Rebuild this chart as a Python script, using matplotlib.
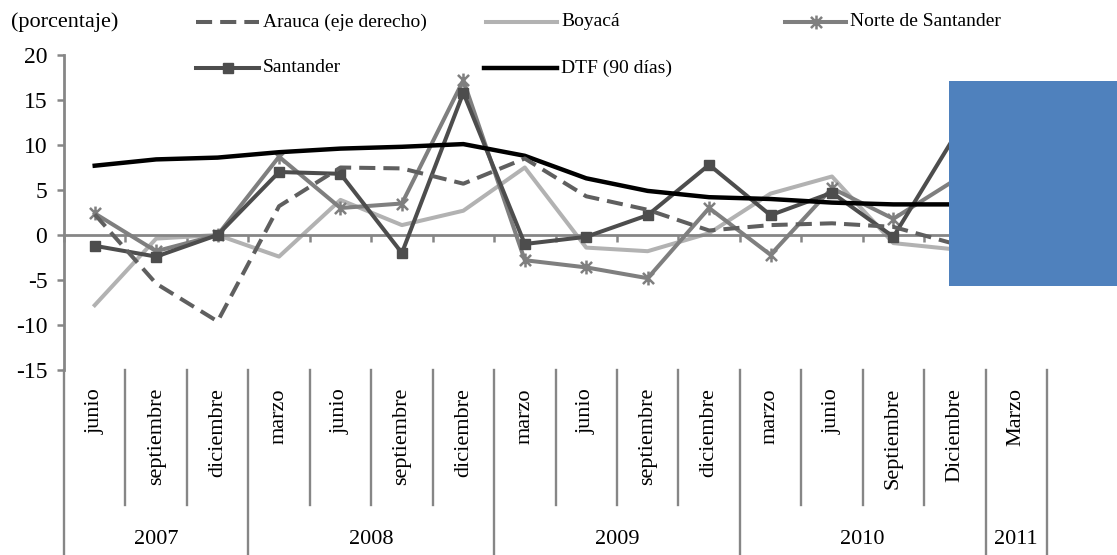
#!/usr/bin/env python3
"""Quarterly growth by department vs. DTF, 2007-2011 (Excel-style multi-level axis)."""

import matplotlib
matplotlib.use("Agg")
import matplotlib.pyplot as plt
from matplotlib.lines import Line2D
from matplotlib.patches import Rectangle
from matplotlib.path import Path
from matplotlib.transforms import blended_transform_factory
import numpy as np


months = ["junio", "septiembre", "diciembre",
          "marzo", "junio", "septiembre", "diciembre",
          "marzo", "junio", "septiembre", "diciembre",
          "marzo", "junio", "Septiembre", "Diciembre",
          "Marzo"]
years = ["2007", "2008", "2009", "2010", "2011"]
months_per_year = [3, 4, 4, 4, 1]

arauca = [2.3, -5.4, -9.6, 3.2, 7.5, 7.4, 5.7, 8.5, 4.3, 2.8, 0.5, 1.1, 1.3, 0.9, -1.0, 1.0]
boyaca = [-7.8, -0.4, 0.0, -2.4, 3.9, 1.1, 2.7, 7.5, -1.4, -1.8, 0.2, 4.6, 6.5, -0.9, -1.6, 3.0]
norte = [2.4, -1.8, 0.0, 8.7, 3.0, 3.5, 17.2, -2.8, -3.6, -4.8, 3.0, -2.2, 5.2, 1.8, 6.1, 4.0]
santander = [-1.2, -2.4, 0.0, 7.0, 6.8, -2.0, 15.8, -1.0, -0.2, 2.2, 7.8, 2.2, 4.7, -0.2, 11.0, 9.0]
dtf = [7.7, 8.4, 8.6, 9.2, 9.6, 9.8, 10.1, 8.8, 6.3, 4.9, 4.2, 4.0, 3.6, 3.4, 3.4, 3.4]

W, H = 1117, 555
AXIS_GRAY = "#868686"


def fx(px):
    return px / W


def fy(py):
    return 1 - py / H


plt.rcParams["font.family"] = ["Liberation Serif", "DejaVu Serif"]
plt.rcParams["axes.unicode_minus"] = False

fig = plt.figure(figsize=(W / 100, H / 100), dpi=100)
ax = fig.add_axes([fx(64), fy(370), fx(1047) - fx(64), fy(55) - fy(370)])
x = np.arange(len(months))

# Excel "star" marker: an X with a vertical bar
star = Path([(-1, -1), (1, 1), (-1, 1), (1, -1), (0, -1.25), (0, 1.25)],
            [Path.MOVETO, Path.LINETO] * 3)

styles = {
    "boyaca": dict(color="#b2b2b2", lw=2.9),
    "norte": dict(color="#7f7f7f", lw=2.9, marker=star, ms=10, mew=1.8),
    "santander": dict(color="#4d4d4d", lw=2.9, marker="s", ms=7.5),
    "dtf": dict(color="black", lw=3.2),
    "arauca": dict(color="#5f5f5f", lw=2.9, ls=(0, (4, 2))),
}
ax.plot(x, boyaca, zorder=2, **styles["boyaca"])
ax.plot(x, norte, zorder=3, **styles["norte"])
ax.plot(x, santander, zorder=4, **styles["santander"])
ax.plot(x, dtf, zorder=5, **styles["dtf"])
ax.plot(x, arauca, zorder=6, **styles["arauca"])

ax.set_xlim(-0.5, len(months) - 0.5)
ax.set_ylim(-15, 20)
ax.set_yticks(np.arange(-15, 21, 5))
ax.tick_params(axis="y", direction="out", length=5, width=1.8, color=AXIS_GRAY,
               labelsize=17, pad=7)
ax.set_xticks(np.arange(-0.5, len(months), 1))
ax.set_xticklabels([])
ax.tick_params(axis="x", direction="out", length=5, width=1.8, color=AXIS_GRAY)

for side in ("top", "right"):
    ax.spines[side].set_visible(False)
ax.spines["left"].set_color(AXIS_GRAY)
ax.spines["left"].set_linewidth(2)
ax.spines["bottom"].set_position(("data", 0))
ax.spines["bottom"].set_color(AXIS_GRAY)
ax.spines["bottom"].set_linewidth(2)

# multi-level category labels below the plot area
trans = blended_transform_factory(ax.transData, fig.transFigure)
year_edges = np.cumsum([0] + months_per_year) - 0.5
for b in np.arange(-0.5, len(months), 1):
    bottom = 0 if np.any(np.isclose(b, year_edges)) else fy(505)
    ax.add_line(Line2D([b, b], [fy(370), bottom], transform=trans, color=AXIS_GRAY,
                       lw=1.7, clip_on=False))
for i, m in enumerate(months):
    ax.text(i, fy(388), m, transform=trans, rotation=90, ha="center", va="top",
            fontsize=16)
for yr, start, n in zip(years, year_edges[:-1], months_per_year):
    ax.text(start + n / 2, fy(540), yr, transform=trans, ha="center", va="center",
            fontsize=16)

# legend laid out like the Excel one
fig.text(fx(11), fy(22), "(porcentaje)", ha="left", va="center", fontsize=16)
legend_items = [
    ("arauca", "Arauca (eje derecho)", 196, 259, 22),
    ("boyaca", "Boyacá", 486, 557, 22),
    ("norte", "Norte de Santander", 785, 846, 22),
    ("santander", "Santander", 196, 259, 68),
    ("dtf", "DTF (90 días)", 484, 557, 68),
]
for key, label, x0, x1, yy in legend_items:
    st = dict(styles[key])
    marker = st.pop("marker", None)
    ms = st.pop("ms", None)
    mew = st.pop("mew", None)
    fig.add_artist(Line2D([fx(x0), fx(x1)], [fy(yy)] * 2, transform=fig.transFigure, **st))
    if marker is not None:
        fig.add_artist(Line2D([fx((x0 + x1) / 2)], [fy(yy)], transform=fig.transFigure,
                              marker=marker, ms=ms, mew=mew or 1, color=st["color"], lw=0))
    fig.text(fx(x1 + 4), fy(yy), label, ha="left", va="center", fontsize=14)

# blue box covering the right part of the chart
fig.add_artist(Rectangle((fx(949), fy(286)), fx(1117) - fx(949), fy(81) - fy(286),
                         transform=fig.transFigure, facecolor="#4f81bd",
                         edgecolor="none", zorder=20))

fig.savefig("out.png", dpi=100)
